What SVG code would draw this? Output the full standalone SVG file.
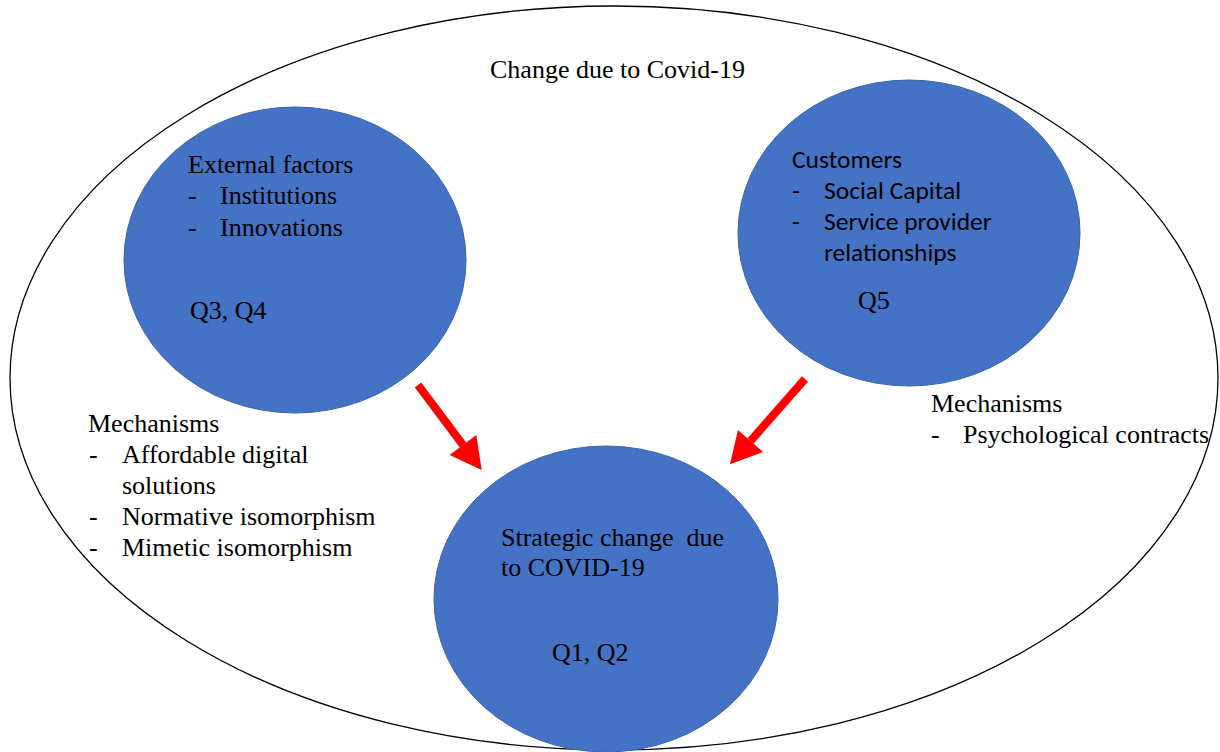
<svg xmlns="http://www.w3.org/2000/svg" width="1220" height="752" viewBox="0 0 1220 752">
  <style>
    .bubble { fill: #4472C4; stroke: #3A62AA; stroke-width: 1; }
    .serif { font-family: "Liberation Serif", "Times New Roman", serif; font-size: 26px; fill: #000; }
    .sans { font-family: Carlito, Lato, "Liberation Sans", sans-serif; font-size: 25.5px; fill: #000; }
    .arrow { stroke: #FF0000; stroke-width: 8; fill: none; }
  </style>
  <defs>
    <!-- arrowhead anchored at its base so the shaft ends where the head starts -->
    <marker id="redHead" markerUnits="userSpaceOnUse" markerWidth="40" markerHeight="40" refX="-28" refY="0" viewBox="-30 -18 32 36" orient="auto">
      <polygon points="0,0 -28,-15 -28,15" fill="#FF0000"/>
    </marker>
  </defs>

  <rect width="1220" height="752" fill="#FFFFFF"/>

  <!-- enclosing context -->
  <g id="context">
    <ellipse cx="614" cy="378" rx="604" ry="372" fill="none" stroke="#000" stroke-width="1.3"/>
    <text class="serif" x="490" y="78">Change due to Covid-19</text>
  </g>

  <g id="external-factors">
    <ellipse class="bubble" cx="295" cy="260" rx="171" ry="153"/>
    <text class="serif" x="188" y="173">External factors</text>
    <text class="serif" x="188" y="204">-</text>
    <text class="serif" x="220" y="204">Institutions</text>
    <text class="serif" x="188" y="236">-</text>
    <text class="serif" x="220" y="236">Innovations</text>
    <text class="serif" x="190" y="319">Q3, Q4</text>
  </g>

  <g id="customers">
    <ellipse class="bubble" cx="909" cy="233" rx="171" ry="153"/>
    <text class="sans" x="792" y="168">Customers</text>
    <text class="sans" x="792" y="199">-</text>
    <text class="sans" x="824" y="199">Social Capital</text>
    <text class="sans" x="792" y="230">-</text>
    <text class="sans" x="824" y="230">Service provider</text>
    <text class="sans" x="824" y="261">relationships</text>
    <text class="serif" x="858" y="309">Q5</text>
  </g>

  <g id="strategic-change">
    <ellipse class="bubble" cx="606" cy="599" rx="172" ry="153"/>
    <text class="serif" x="501" y="546" xml:space="preserve">Strategic change  due</text>
    <text class="serif" x="501" y="576">to COVID-19</text>
    <text class="serif" x="552" y="661">Q1, Q2</text>
  </g>

  <g id="mechanisms-external">
    <text class="serif" x="88" y="432">Mechanisms</text>
    <text class="serif" x="89" y="463">-</text>
    <text class="serif" x="122" y="463">Affordable digital</text>
    <text class="serif" x="122" y="494">solutions</text>
    <text class="serif" x="89" y="525">-</text>
    <text class="serif" x="122" y="525">Normative isomorphism</text>
    <text class="serif" x="89" y="556">-</text>
    <text class="serif" x="122" y="556">Mimetic isomorphism</text>
  </g>

  <g id="mechanisms-customers">
    <text class="serif" x="931" y="412">Mechanisms</text>
    <text class="serif" x="931" y="443">-</text>
    <text class="serif" x="963" y="443">Psychological contracts</text>
  </g>

  <g id="connectors">
    <line class="arrow" x1="418" y1="385" x2="463" y2="445" marker-end="url(#redHead)"/>
    <line class="arrow" x1="805" y1="379" x2="750.5" y2="441" marker-end="url(#redHead)"/>
  </g>
</svg>
